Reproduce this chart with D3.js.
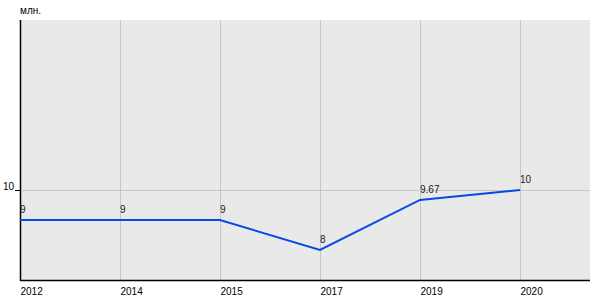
<!DOCTYPE html>
<html><head><meta charset="utf-8">
<script src="https://cdn.jsdelivr.net/npm/d3@7"></script>
<style>body{margin:0;background:#fff}svg{display:block}text{font-family:"Liberation Sans",Arial,sans-serif}</style>
</head><body>
<script>
const categories = ["2012","2014","2015","2017","2019","2020"];
const values = [9, 9, 9, 8, 9.67, 10];
const valueLabels = ["9","9","9","8","9.67","10"];
const yTicks = [10];
const unitLabel = "млн.";

const W = 600, H = 300;
const mL = 20, mR = 590, mT = 20, mB = 280;
const svg = d3.select("body").append("svg").attr("width", W).attr("height", H);

const x = d3.scalePoint().domain(categories.concat(["_"])).range([mL, mL + 100 * categories.length]);
const y = d3.scaleLinear().domain([7, 7 + (mB - mT) / 30]).range([mB, mT]);

svg.append("rect").attr("x", mL).attr("y", mT).attr("width", mR - mL).attr("height", mB - mT).attr("fill", "#e9e9e9");

// vertical grid
svg.append("g").selectAll("line").data(categories).join("line")
  .attr("x1", d => x(d) + 0.5).attr("x2", d => x(d) + 0.5)
  .attr("y1", mT).attr("y2", mB)
  .attr("stroke", "#c6c6c6").attr("stroke-width", 1);
// horizontal grid
svg.append("g").selectAll("line").data(yTicks).join("line")
  .attr("x1", mL).attr("x2", mR)
  .attr("y1", d => Math.round(y(d)) + 0.5).attr("y2", d => Math.round(y(d)) + 0.5)
  .attr("stroke", "#c6c6c6").attr("stroke-width", 1);

// y axis
const yAxis = d3.axisLeft(y).tickValues(yTicks).tickSize(5).tickPadding(1);
const gy = svg.append("g").attr("transform", `translate(${mL},0)`).call(yAxis);
gy.select(".domain").remove();
gy.selectAll(".tick line").attr("stroke", "#000");
gy.selectAll(".tick text").attr("font-size", 10).attr("fill", "#000").attr("dy", "-0.1em");

// x axis
const xAxis = d3.axisBottom(x).tickValues(categories).tickSize(0).tickPadding(6);
const gx = svg.append("g").attr("transform", `translate(0,${mB})`).call(xAxis);
gx.select(".domain").remove();
gx.selectAll(".tick text").attr("font-size", 10).attr("fill", "#000").attr("text-anchor", "start").attr("dy", "0.85em");

// axis lines
svg.append("line").attr("x1", mL + 0.5).attr("x2", mL + 0.5).attr("y1", mT).attr("y2", mB + 1).attr("stroke", "#000").attr("stroke-width", 1.5);
svg.append("line").attr("x1", mL).attr("x2", mR).attr("y1", mB + 0.5).attr("y2", mB + 0.5).attr("stroke", "#000").attr("stroke-width", 1.5);

// line
const line = d3.line().x((d, i) => x(categories[i])).y(d => y(d));
svg.append("path").datum(values).attr("d", line).attr("fill", "none").attr("stroke", "#0748e6").attr("stroke-width", 2);

// value labels
svg.append("g").selectAll("text").data(values).join("text")
  .attr("x", (d, i) => x(categories[i])).attr("y", d => y(d) - 7)
  .attr("font-size", 10).attr("fill", "#222").text((d, i) => valueLabels[i]);

svg.append("text").attr("x", mL).attr("y", 14).attr("font-size", 10).attr("fill", "#000").text(unitLabel);
</script>
</body></html>
